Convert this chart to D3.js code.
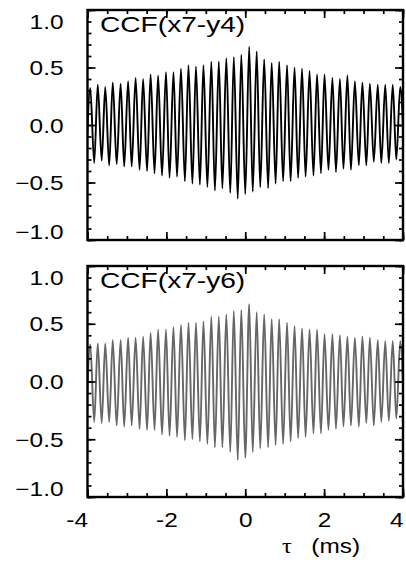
<!DOCTYPE html>
<html>
<head>
<meta charset="utf-8">
<script src="https://cdn.jsdelivr.net/npm/d3@7"></script>
<style>
  html, body { margin: 0; padding: 0; background: #fff; }
  svg { display: block; }
  text { font-family: "Liberation Sans", Arial, Helvetica, sans-serif; }
</style>
</head>
<body>
<svg id="chart" width="406" height="572"></svg>
<script>
// Lag (ms) of each local maximum and minimum of the cross-correlation
const tauPeaks = [-3.93, -3.74, -3.55, -3.36, -3.16, -2.97, -2.78, -2.59, -2.40, -2.21,
  -2.01, -1.82, -1.63, -1.44, -1.25, -1.06, -0.86, -0.67, -0.48, -0.29, -0.10,
  0.10, 0.29, 0.48, 0.67, 0.86, 1.06, 1.25, 1.44, 1.63, 1.82, 2.01, 2.21, 2.40,
  2.59, 2.78, 2.97, 3.16, 3.36, 3.55, 3.74, 3.93];
const tauTroughs = [-4.03, -3.83, -3.64, -3.45, -3.26, -3.07, -2.88, -2.68, -2.49, -2.30,
  -2.11, -1.92, -1.73, -1.53, -1.34, -1.15, -0.96, -0.77, -0.58, -0.38, -0.19, 0.00,
  0.19, 0.38, 0.58, 0.77, 0.96, 1.15, 1.34, 1.53, 1.73, 1.92, 2.11, 2.30, 2.49,
  2.68, 2.88, 3.07, 3.26, 3.45, 3.64, 3.83, 4.03];

// CCF(x7-y4): maxima and minima
const peaksX7Y4 = [0.32, 0.35, 0.33, 0.37, 0.36, 0.38, 0.41, 0.40, 0.44, 0.43, 0.46,
  0.46, 0.49, 0.52, 0.51, 0.52, 0.55, 0.55, 0.58, 0.59, 0.61,
  0.68, 0.64, 0.57, 0.54, 0.55, 0.52, 0.50, 0.49, 0.47, 0.44, 0.44, 0.41, 0.40,
  0.43, 0.38, 0.37, 0.36, 0.35, 0.35, 0.35, 0.33];
const troughsX7Y4 = [-0.32, -0.33, -0.31, -0.35, -0.34, -0.36, -0.36, -0.39, -0.40, -0.42,
  -0.44, -0.46, -0.45, -0.49, -0.51, -0.52, -0.54, -0.57, -0.55, -0.59, -0.64, -0.60,
  -0.58, -0.54, -0.55, -0.51, -0.49, -0.49, -0.46, -0.45, -0.44, -0.42, -0.39, -0.41,
  -0.38, -0.39, -0.35, -0.35, -0.32, -0.33, -0.33, -0.30, -0.31];

// CCF(x7-y6): maxima and minima
const peaksX7Y6 = [0.32, 0.33, 0.33, 0.36, 0.36, 0.38, 0.38, 0.39, 0.42, 0.45, 0.45,
  0.47, 0.49, 0.51, 0.51, 0.52, 0.56, 0.56, 0.58, 0.61, 0.62,
  0.67, 0.60, 0.58, 0.54, 0.54, 0.51, 0.48, 0.46, 0.45, 0.45, 0.41, 0.41, 0.40,
  0.39, 0.38, 0.39, 0.38, 0.36, 0.35, 0.35, 0.35];
const troughsX7Y6 = [-0.35, -0.35, -0.36, -0.35, -0.38, -0.39, -0.38, -0.41, -0.42, -0.42,
  -0.46, -0.47, -0.48, -0.51, -0.50, -0.52, -0.54, -0.57, -0.57, -0.61, -0.68, -0.66,
  -0.61, -0.58, -0.57, -0.55, -0.54, -0.52, -0.49, -0.48, -0.45, -0.45, -0.42, -0.41,
  -0.39, -0.38, -0.39, -0.36, -0.38, -0.35, -0.34, -0.32, -0.35];

const xTicks = [-4, -2, 0, 2, 4];
const yTicks = [-1.0, -0.5, 0.0, 0.5, 1.0];
const panelLabels = ["CCF(x7-y4)", "CCF(x7-y6)"];

const STRETCH = 1.22;      // glyphs are drawn a little wider than tall
const FONT = "'Liberation Sans', Arial, sans-serif";

const svg = d3.select("#chart");
svg.append("rect").attr("width", 406).attr("height", 572).attr("fill", "#fff");

const left = 87.5, right = 403;
const x = d3.scaleLinear().domain([-4, 4]).range([left, right]);

const panels = [
  { top: 10, bottom: 240, peaks: peaksX7Y4, troughs: troughsX7Y4, color: "#000", label: panelLabels[0], showX: false },
  { top: 266, bottom: 497, peaks: peaksX7Y6, troughs: troughsX7Y6, color: "#666", label: panelLabels[1], showX: true }
];

const fmtY = d3.format(".1f");
const fmtX = d => String(d);   // plain hyphen-minus on the lag axis

function styleTicks(sel) {
  sel.select(".domain").remove();
  sel.selectAll(".tick line").attr("stroke", "#000").attr("stroke-width", 1.7);
}

panels.forEach((p, i) => {
  const y = d3.scaleLinear().domain([-1, 1]).range([p.bottom, p.top]);
  const g = svg.append("g");

  // waveform through the extrema
  const pts = tauPeaks.map((t, k) => [t, p.peaks[k]])
    .concat(tauTroughs.map((t, k) => [t, p.troughs[k]]))
    .sort((a, b) => a[0] - b[0]);

  const clipId = "clip" + i;
  svg.append("clipPath").attr("id", clipId)
    .append("rect").attr("x", left).attr("y", p.top)
    .attr("width", right - left).attr("height", p.bottom - p.top);

  const line = d3.line().x(d => x(d[0])).y(d => y(d[1])).curve(d3.curveMonotoneX);
  g.append("path").datum(pts)
    .attr("clip-path", `url(#${clipId})`)
    .attr("fill", "none").attr("stroke", p.color)
    .attr("stroke-width", 1.9).attr("stroke-linejoin", "round")
    .attr("d", line);

  // minor ticks on all sides, major ticks mirrored on right and top
  const minorY = y.ticks(20), minorX = x.ticks(16);
  const axes = [
    [d3.axisLeft(y).tickValues(minorY).tickSize(-4), `translate(${left},0)`],
    [d3.axisRight(y).tickValues(minorY).tickSize(-4), `translate(${right},0)`],
    [d3.axisBottom(x).tickValues(minorX).tickSize(-4), `translate(0,${p.bottom})`],
    [d3.axisTop(x).tickValues(minorX).tickSize(-4), `translate(0,${p.top})`],
    [d3.axisRight(y).tickValues(yTicks).tickSize(-8), `translate(${right},0)`],
    [d3.axisTop(x).tickValues(xTicks).tickSize(-8), `translate(0,${p.top})`]
  ];
  axes.forEach(([axis, tr]) => {
    g.append("g").attr("transform", tr).call(axis.tickFormat("")).call(styleTicks);
  });

  // major y axis with labels
  const ay = g.append("g").attr("transform", `translate(${left},0)`)
    .call(d3.axisLeft(y).tickValues(yTicks).tickSize(-8).tickPadding(24).tickFormat(fmtY))
    .call(styleTicks);
  ay.selectAll(".tick text")
    .attr("font-size", 20).attr("fill", "#000").attr("font-family", FONT)
    .attr("dy", d => d === 1 ? "0.93em" : d === -1 ? "-0.08em" : "0.36em")
    .each(function () {
      const t = d3.select(this), x0 = +t.attr("x");
      t.attr("x", 0).attr("transform", `translate(${x0},0) scale(${STRETCH},1)`);
    });

  // major x axis
  const ax = g.append("g").attr("transform", `translate(0,${p.bottom})`)
    .call(d3.axisBottom(x).tickValues(xTicks).tickSize(-8).tickPadding(16)
      .tickFormat(p.showX ? fmtX : ""))
    .call(styleTicks);
  ax.selectAll(".tick text")
    .attr("font-size", 20).attr("fill", "#000").attr("font-family", FONT)
    .attr("text-anchor", d => Math.abs(d) === 4 ? "end" : "middle")
    .attr("transform", `scale(${STRETCH},1)`);

  // frame
  g.append("rect").attr("x", left).attr("y", p.top)
    .attr("width", right - left).attr("height", p.bottom - p.top)
    .attr("fill", "none").attr("stroke", "#000").attr("stroke-width", 2.4);

  // panel label
  g.append("text")
    .attr("transform", `translate(100,${p.top + 22}) scale(1.25,1)`)
    .attr("font-size", 22.5).attr("fill", "#000").text(p.label);
});

// x-axis title
const title = svg.append("text")
  .attr("transform", `translate(282,553) scale(${STRETCH},1)`)
  .attr("font-size", 20).attr("fill", "#000");
title.append("tspan").attr("font-family", "'Liberation Serif', 'DejaVu Serif', serif").text("τ");
title.append("tspan").attr("x", 24).text("(ms)");
</script>
</body>
</html>
